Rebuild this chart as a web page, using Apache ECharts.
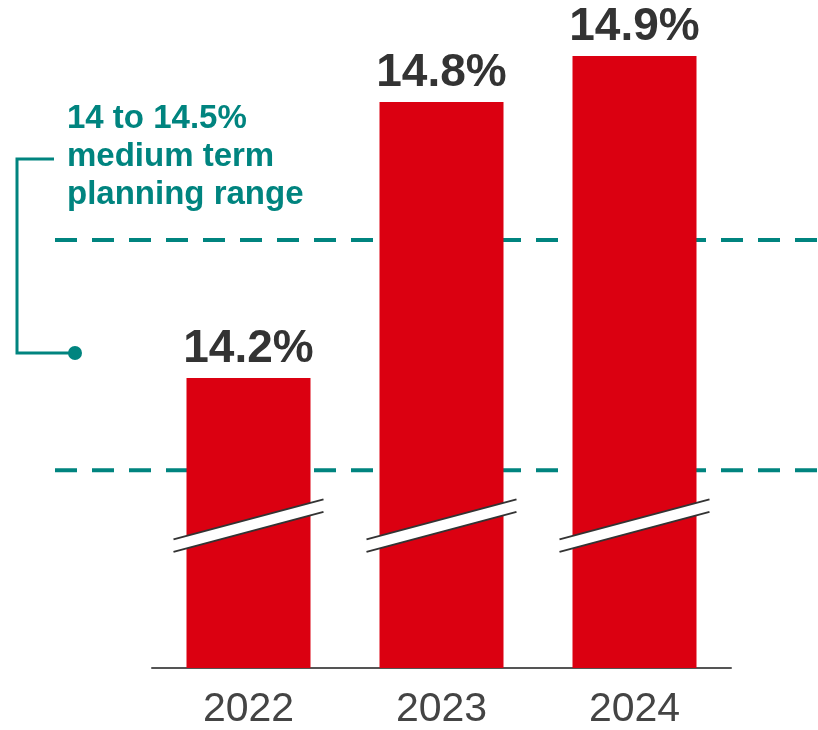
<!DOCTYPE html>
<html>
<head>
<meta charset="utf-8">
<script src="https://cdn.jsdelivr.net/npm/echarts@6/dist/echarts.min.js"></script>
<style>
  html, body { margin: 0; padding: 0; background: #fff; }
  #chart { width: 818px; height: 730px; }
</style>
</head>
<body>
<div id="chart"></div>
<script>
// data
const years = ["2022", "2023", "2024"];
const values = [14.2, 14.8, 14.9];
const planningRange = [14.0, 14.5];
const noteLines = ["14 to 14.5%", "medium term", "planning range"];

const RED = "#db0011";
const TEAL = "#00847f";
const FONT = "'Liberation Sans', Arial, sans-serif";
const yMin = 13.57, yMax = 15.0;
const breakAt = 13.88; // where the axis break is drawn across each bar

const option = {
  backgroundColor: "#fff",
  animation: false,
  grid: [
    { left: 152, right: 87, top: 10, bottom: 62, outerBoundsMode: "none" },
    { left: 55, right: 0, top: 10, bottom: 62, outerBoundsMode: "none" }
  ],
  xAxis: [
    {
      type: "category",
      gridIndex: 0,
      data: years,
      axisLine: { lineStyle: { color: "#555", width: 2 } },
      axisTick: { show: false },
      axisLabel: { fontSize: 41, color: "#444", fontFamily: FONT, margin: 21 }
    },
    { type: "value", gridIndex: 1, min: 0, max: 1, show: false }
  ],
  yAxis: [
    { type: "value", gridIndex: 0, min: yMin, max: yMax, show: false, splitLine: { show: false } },
    { type: "value", gridIndex: 1, min: yMin, max: yMax, show: false, splitLine: { show: false } }
  ],
  series: [
    ...planningRange.map(v => ({
      type: "line",
      xAxisIndex: 1,
      yAxisIndex: 1,
      z: 1,
      symbol: "none",
      data: [[0, v], [1, v]],
      lineStyle: { color: TEAL, width: 4, type: [22, 15] }
    })),
    {
      type: "bar",
      xAxisIndex: 0,
      yAxisIndex: 0,
      z: 3,
      barWidth: 124,
      data: values,
      itemStyle: { color: RED },
      label: {
        show: true,
        position: "top",
        distance: 6,
        fontSize: 46,
        fontWeight: "bold",
        color: "#333",
        fontFamily: FONT,
        formatter: p => p.value.toFixed(1) + "%"
      }
    },
    {
      type: "custom",
      xAxisIndex: 0,
      yAxisIndex: 0,
      z: 5,
      data: years.map(y => [y, breakAt]),
      renderItem: function (params, api) {
        const c = api.coord([api.value(0), api.value(1)]);
        const x0 = c[0] - 75, x1 = c[0] + 75, cy = c[1];
        return {
          type: "group",
          children: [
            {
              type: "polygon",
              shape: { points: [[x0, cy + 14], [x1, cy - 26], [x1, cy - 13.5], [x0, cy + 26.5]] },
              style: { fill: "#fff" }
            },
            {
              type: "line",
              shape: { x1: x0, y1: cy + 14, x2: x1, y2: cy - 26 },
              style: { stroke: "#333", lineWidth: 2 }
            },
            {
              type: "line",
              shape: { x1: x0, y1: cy + 26.5, x2: x1, y2: cy - 13.5 },
              style: { stroke: "#333", lineWidth: 2 }
            }
          ]
        };
      }
    }
  ],
  graphic: [
    {
      type: "text",
      left: 67,
      top: 100,
      style: {
        text: noteLines.join("\n"),
        fill: TEAL,
        font: "bold 33px " + FONT,
        lineHeight: 38
      }
    },
    {
      type: "polyline",
      shape: { points: [[54, 159], [17, 159], [17, 353], [75, 353]] },
      style: { stroke: TEAL, lineWidth: 3, fill: null }
    },
    {
      type: "circle",
      shape: { cx: 75, cy: 353, r: 7 },
      style: { fill: TEAL }
    }
  ]
};

const chart = echarts.init(document.getElementById("chart"));
chart.setOption(option);
</script>
</body>
</html>
